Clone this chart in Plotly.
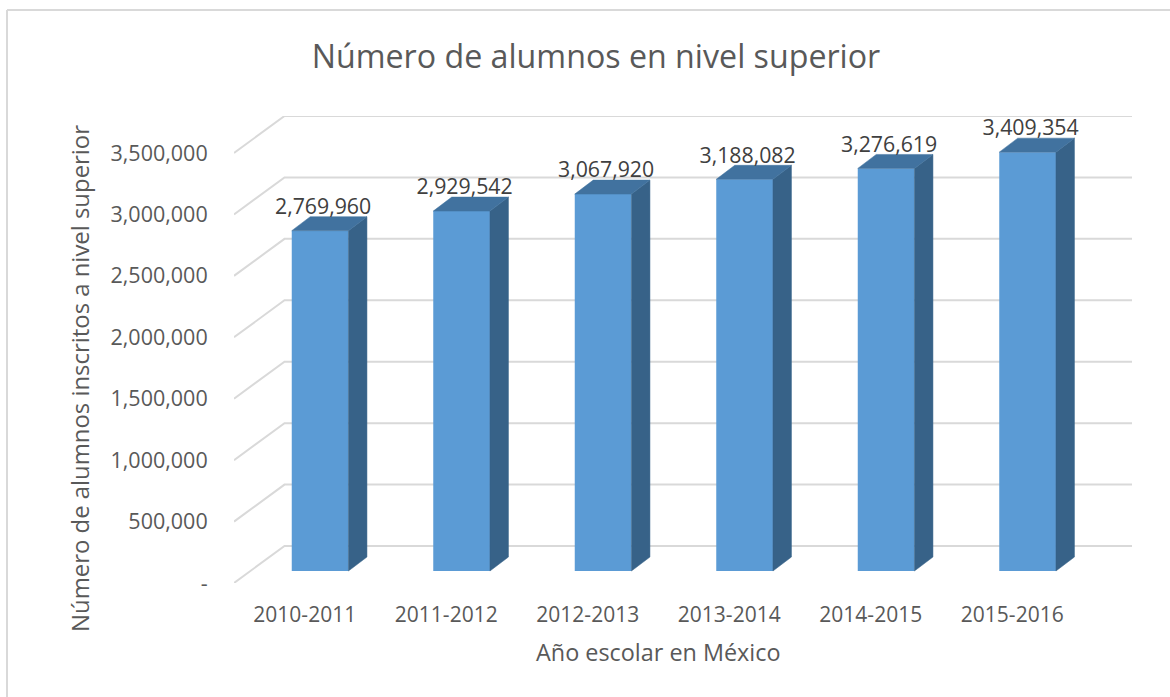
import plotly.graph_objects as go

categories = ["2010-2011", "2011-2012", "2012-2013", "2013-2014", "2014-2015", "2015-2016"]
alumnos = [2769960, 2929542, 3067920, 3188082, 3276619, 3409354]
y_ticks = [0, 500000, 1000000, 1500000, 2000000, 2500000, 3000000, 3500000]
y_labels = ["-", "500,000", "1,000,000", "1,500,000", "2,000,000", "2,500,000", "3,000,000", "3,500,000"]

W, H = 1170, 697
L, R, T, B = 234, 1132, 116, 583
X_UNIT = 141.5
Y_UNIT = 61.43 / 500000
px_x = lambda p: p / X_UNIT
px_y = lambda p: p / Y_UNIT
X0 = -0.5
X1 = X0 + (R - L) / X_UNIT
Y1 = (B - T) / Y_UNIT

WALL_DX, WALL_DY = px_x(50.5), px_y(37)
BAR_DX, BAR_DY = px_x(18.5), px_y(14)
BAR_W = px_x(56.7)
BAR_LEFT = px_x(292 - 305.0)
BAR_BASE = px_y(12)

GREY = "#595959"
FONT = "Open Sans"
fig = go.Figure()

shapes = [
    dict(type="line", xref="paper", yref="paper", layer="below",
         x0=(7 - L) / (R - L), x1=(7 - L) / (R - L),
         y0=(B - H) / (B - T), y1=(B - 10) / (B - T),
         line=dict(color="#d9d9d9", width=2)),
    dict(type="line", xref="paper", yref="paper", layer="below",
         x0=(7 - L) / (R - L), x1=(W - L) / (R - L),
         y0=(B - 10) / (B - T), y1=(B - 10) / (B - T),
         line=dict(color="#d9d9d9", width=2)),
]
for v in y_ticks:
    shapes.append(dict(
        type="path", xref="x", yref="y", layer="below",
        path=f"M {X0} {v} L {X0 + WALL_DX} {v + WALL_DY} L {X1} {v + WALL_DY}",
        line=dict(color="#d9d9d9", width=2)))

for i, v in enumerate(alumnos):
    xl = i + BAR_LEFT
    xr = xl + BAR_W
    top = v + BAR_BASE
    fig.add_trace(go.Scatter(
        x=[xr, xr + BAR_DX, xr + BAR_DX, xr, xr],
        y=[BAR_BASE, BAR_BASE + BAR_DY, top + BAR_DY, top, BAR_BASE],
        fill="toself", fillcolor="#376288", mode="lines",
        line=dict(color="#376288", width=0.5), hoverinfo="skip", showlegend=False))
    fig.add_trace(go.Scatter(
        x=[xl, xl + BAR_DX, xr + BAR_DX, xr, xl],
        y=[top, top + BAR_DY, top + BAR_DY, top, top],
        fill="toself", fillcolor="#41729f", mode="lines",
        line=dict(color="#41729f", width=0.5), hoverinfo="skip", showlegend=False))

fig.add_trace(go.Bar(
    x=list(range(len(categories))), y=alumnos, base=BAR_BASE,
    offset=BAR_LEFT, width=BAR_W, marker=dict(color="#5b9bd5", line=dict(width=0)),
    showlegend=False))

fig.add_trace(go.Scatter(
    x=[i + BAR_LEFT + BAR_W / 2 + px_x(3) for i in range(len(alumnos))],
    y=[v + BAR_BASE + px_y(22) for v in alumnos],
    mode="text", text=[f"{v:,}" for v in alumnos],
    textfont=dict(family=FONT, size=21.3, color="#404040"),
    textposition="middle center", hoverinfo="skip", showlegend=False))

fig.update_layout(
    width=W, height=H, autosize=False,
    margin=dict(l=L, r=W - R, t=T, b=H - B, pad=0),
    paper_bgcolor="white", plot_bgcolor="rgba(0,0,0,0)",
    font=dict(family=FONT, color=GREY),
    title=dict(text="Número de alumnos en nivel superior", x=596 / W, xanchor="center",
               y=1 - 57 / H, yanchor="middle", font=dict(family=FONT, size=32.2, color=GREY)),
    xaxis=dict(range=[X0, X1], tickmode="array", tickvals=list(range(len(categories))),
               ticktext=categories, showgrid=False, zeroline=False, showline=False,
               ticks="outside", ticklen=13, tickcolor="rgba(0,0,0,0)",
               tickfont=dict(family=FONT, size=21, color=GREY)),
    yaxis=dict(range=[0, Y1], tickmode="array", tickvals=y_ticks, ticktext=y_labels,
               showgrid=False, zeroline=False, showline=False,
               ticks="outside", ticklen=21, tickcolor="rgba(0,0,0,0)",
               tickfont=dict(family=FONT, size=21.5, color=GREY)),
    shapes=shapes,
    annotations=[
        dict(text="Año escolar en México", xref="paper", yref="paper",
             x=(658 - L) / (R - L), y=(B - 652) / (B - T), xanchor="center", yanchor="middle",
             showarrow=False, font=dict(family=FONT, size=23.4, color=GREY)),
        dict(text="Número de alumnos inscritos a nivel superior", xref="paper", yref="paper",
             x=(79 - L) / (R - L), y=(B - 379) / (B - T), xanchor="center", yanchor="middle",
             textangle=-90, showarrow=False, font=dict(family=FONT, size=23.9, color=GREY)),
    ],
)

fig.write_html("out.html", config=dict(displayModeBar=False),
               post_script="document.body.style.margin='0';")
